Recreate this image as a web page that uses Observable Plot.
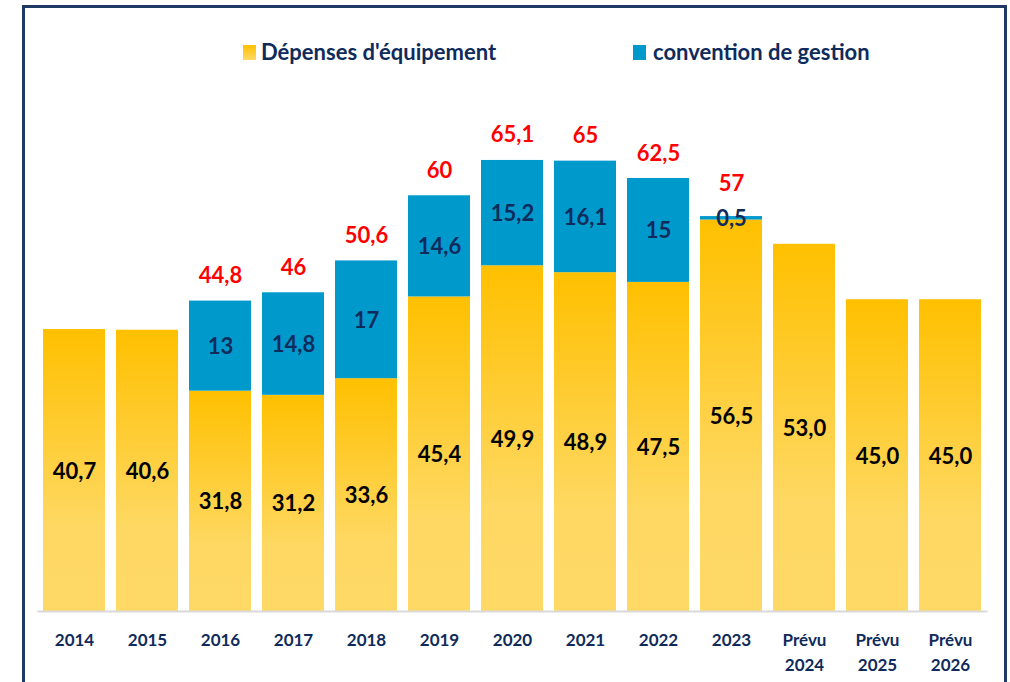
<!DOCTYPE html>
<html>
<head>
<meta charset="utf-8">
<script src="https://cdn.jsdelivr.net/npm/d3@7"></script>
<script src="https://cdn.jsdelivr.net/npm/@observablehq/plot@0.6"></script>
<style>
  html, body { margin: 0; padding: 0; background: #fff; }
  #wrap { position: relative; width: 1010px; height: 682px; overflow: hidden; font-family: Lato, "Open Sans", sans-serif; }
  #frame { position: absolute; left: 22px; top: 5px; width: 979px; height: 720px; border: 3px solid #1F3864; border-bottom: none; pointer-events: none; }
  #legend { position: relative; height: 90px; }
  .sw { position: absolute; width: 13px; height: 15px; }
  .lt { position: absolute; font-weight: 700; font-size: 22px; color: #0F2B5B; line-height: 22px; white-space: nowrap; }
  #chart { position: relative; }
</style>
</head>
<body>
<div id="wrap">
  <div id="legend">
    <div class="sw" style="left:243px;top:45px;background:linear-gradient(#FFC000,#FFD966);"></div>
    <div class="lt" style="left:261px;top:41px;">Dépenses d'équipement</div>
    <div class="sw" style="left:633px;top:45px;background:#0099CC;"></div>
    <div class="lt" style="left:653px;top:41px;">convention de gestion</div>
  </div>
  <div id="chart"></div>
  <div id="frame"></div>
</div>
<script>
const categories = ["2014", "2015", "2016", "2017", "2018", "2019", "2020", "2021", "2022", "2023", "Prévu\n2024", "Prévu\n2025", "Prévu\n2026"];
const equipement = [40.7, 40.6, 31.8, 31.2, 33.6, 45.4, 49.9, 48.9, 47.5, 56.5, 53.0, 45.0, 45.0];
const convention = [0, 0, 13, 14.8, 17, 14.6, 15.2, 16.1, 15, 0.5, 0, 0, 0];
const seriesNames = ["Dépenses d'équipement", "convention de gestion"];

const fr = v => String(v).replace(".", ",");
const rows = [];
categories.forEach((c, i) => {
  rows.push({cat: c, series: seriesNames[0], value: equipement[i], label: equipement[i].toFixed(1).replace(".", ",")});
  rows.push({cat: c, series: seriesNames[1], value: convention[i], label: convention[i] > 0 ? fr(convention[i]) : ""});
});
const totals = categories.map((c, i) => ({cat: c, conv: convention[i], total: +(equipement[i] + convention[i]).toFixed(1)}))
  .filter(d => d.conv > 0);

const chart = Plot.plot({
  width: 1010,
  height: 592,
  marginLeft: 37.5,
  marginRight: 22.5,
  marginTop: 36,
  marginBottom: 71,
  style: {fontFamily: "Lato, 'Open Sans', sans-serif", background: "transparent"},
  x: {domain: categories, paddingInner: 0.15, paddingOuter: 0.075, axis: null},
  y: {domain: [0, 70], axis: null},
  color: {domain: seriesNames, range: ["url(#gradYellow)", "#0099CC"]},
  marks: [
    Plot.barY(rows, {x: "cat", y: "value", fill: "series", order: seriesNames}),
    Plot.ruleY([0], {stroke: "#D9D9D9", strokeWidth: 2}),
    Plot.text(rows, Plot.stackY({x: "cat", y: "value", order: seriesNames, text: "label",
      fill: d => d.series === seriesNames[0] ? "#000000" : "#0F2B5B",
      fontSize: 22, fontWeight: 700, dy: 1})),
    Plot.text(totals.filter(d => d.conv >= 1), {x: "cat", y: "total", text: d => fr(d.total), fill: "#FF0000", fontSize: 22, fontWeight: 700, dy: -25}),
    Plot.text(totals.filter(d => d.conv < 1), {x: "cat", y: "total", text: d => fr(d.total), fill: "#FF0000", fontSize: 22, fontWeight: 700, dy: -33}),
    Plot.text(categories, {x: d => d, frameAnchor: "bottom", lineAnchor: "top", dy: 16, text: d => d,
      fill: "#0F2B5B", fontSize: 17, fontWeight: 700, lineHeight: 1.5})
  ]
});

const svg = d3.select(chart);
const defs = svg.insert("defs", ":first-child");
const g = defs.append("linearGradient").attr("id", "gradYellow").attr("x1", 0).attr("y1", 0).attr("x2", 0).attr("y2", 1);
g.append("stop").attr("offset", "0").attr("stop-color", "#FFC000");
g.append("stop").attr("offset", "0.7").attr("stop-color", "#FED862");
g.append("stop").attr("offset", "1").attr("stop-color", "#FED966");
document.getElementById("chart").appendChild(chart);
</script>
</body>
</html>
